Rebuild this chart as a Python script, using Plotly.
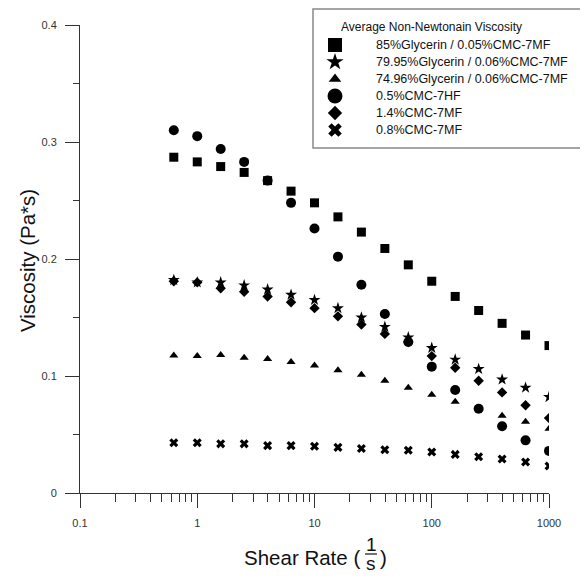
import plotly.graph_objects as go

shear_rate = [0.631, 1.0, 1.585, 2.512, 3.981, 6.31, 10.0, 15.85, 25.12, 39.81,
              63.1, 100.0, 158.5, 251.2, 398.1, 631.0, 1000.0]

glyc85_cmc005 = [0.287, 0.283, 0.279, 0.274, 0.267, 0.258, 0.248, 0.236, 0.223,
                 0.209, 0.195, 0.181, 0.168, 0.156, 0.145, 0.135, 0.126]
glyc7995_cmc006 = [0.182, 0.180, 0.180, 0.1775, 0.174, 0.1695, 0.165, 0.158, 0.150,
                   0.142, 0.133, 0.124, 0.114, 0.106, 0.097, 0.090, 0.082]
glyc7496_cmc006 = [0.1175, 0.117, 0.118, 0.1155, 0.1145, 0.112, 0.109, 0.105, 0.101,
                   0.096, 0.090, 0.084, 0.078, 0.072, 0.066, 0.061, 0.055]
cmc7hf_05 = [0.310, 0.305, 0.294, 0.283, 0.267, 0.248, 0.226, 0.202, 0.178,
             0.153, 0.129, 0.108, 0.088, 0.072, 0.057, 0.045, 0.036]
cmc7mf_14 = [0.181, 0.180, 0.175, 0.172, 0.168, 0.163, 0.158, 0.151, 0.144,
             0.136, 0.129, 0.117, 0.107, 0.096, 0.086, 0.075, 0.064]
cmc7mf_08 = [0.043, 0.043, 0.042, 0.042, 0.0405, 0.0405, 0.040, 0.039, 0.038,
             0.037, 0.0365, 0.035, 0.033, 0.031, 0.029, 0.0265, 0.023]

legend_title = "Average Non-Newtonain Viscosity"
series_names = ["85%Glycerin / 0.05%CMC-7MF", "79.95%Glycerin / 0.06%CMC-7MF",
                "74.96%Glycerin / 0.06%CMC-7MF", "0.5%CMC-7HF", "1.4%CMC-7MF",
                "0.8%CMC-7MF"]
series_values = [glyc85_cmc005, glyc7995_cmc006, glyc7496_cmc006, cmc7hf_05,
                 cmc7mf_14, cmc7mf_08]
symbols = ["square", "star", "triangle-up", "circle", "diamond", "x"]
plot_sizes = [9, 9, 8, 10, 8, 8]
legend_sizes = [14, 13, 11, 15, 11, 12]
legend_rows = [0, 1, 2, 3, 4, 5]

x_tick_vals = [0.1, 1, 10, 100, 1000]
x_tick_text = ["0.1", "1", "10", "100", "1000"]
y_tick_vals = [0, 0.1, 0.2, 0.3, 0.4]
y_tick_text = ["0", "0.1", "0.2", "0.3", "0.4"]
y_minor_vals = [0.05, 0.15, 0.25, 0.35]
y_title = "Viscosity (Pa*s)"

FONT = "Liberation Sans, Arial, sans-serif"
OFF = 8  # page body margin around the figure
W, H = 588 - OFF, 582 - 2 * OFF
# plot area in page pixels: x 80..549, y 25..493
L, T = 80 - OFF, 25 - OFF
R, B = W - (549 - OFF), H - (493 - OFF)
PW, PH = W - L - R, H - T - B


def px(xp):
    return (xp - OFF - L) / PW


def py(yp):
    return (H - B - (yp - OFF)) / PH


fig = go.Figure()

# legend box
fig.add_shape(type="rect", xref="paper", yref="paper", layer="below",
              x0=px(313), x1=px(585), y0=py(148), y1=py(9),
              fillcolor="white", line=dict(color="#888888", width=1.5))

draw_order = [5, 2, 4, 1, 3, 0]
for i in draw_order:
    fig.add_trace(go.Scatter(
        x=shear_rate, y=series_values[i], mode="markers", showlegend=False,
        marker=dict(symbol=symbols[i], size=plot_sizes[i], color="black",
                    line=dict(width=0)),
        name=series_names[i], hoverinfo="x+y+name"))

# legend symbols on a hidden helper axis pair
for i in range(6):
    fig.add_trace(go.Scatter(
        x=[0.5], y=[legend_rows[i]], xaxis="x2", yaxis="y2", mode="markers",
        showlegend=False, hoverinfo="skip", cliponaxis=False,
        marker=dict(symbol=symbols[i], size=legend_sizes[i], color="black",
                    line=dict(width=0))))
    fig.add_annotation(text=series_names[i], xref="paper", yref="y2",
                       x=px(374), y=legend_rows[i], xanchor="left", yanchor="middle",
                       showarrow=False,
                       font=dict(size=12.5, color="#111111", family=FONT))

fig.add_annotation(text=legend_title, xref="paper", yref="paper",
                   x=px(339), y=py(27), xanchor="left", yanchor="middle",
                   showarrow=False, font=dict(size=12, color="#111111", family=FONT))

axis_col = "#333333"
fig.update_layout(
    width=W, height=H,
    margin=dict(l=L, r=R, t=T, b=B, autoexpand=False),
    paper_bgcolor="white", plot_bgcolor="rgba(0,0,0,0)",
    font=dict(family=FONT, color="#222222", size=12),
    showlegend=False,
    xaxis=dict(type="log", range=[-1, 3], tickvals=x_tick_vals, ticktext=x_tick_text,
               showgrid=False, zeroline=False, showline=True, linecolor=axis_col,
               linewidth=1, ticks="outside", ticklen=14, tickcolor=axis_col,
               tickfont=dict(size=11, color="#333333"), ticklabelstandoff=6,
               automargin=False,
               minor=dict(ticks="outside", ticklen=8, tickcolor=axis_col, dtick="D1",
                          showgrid=False)),
    yaxis=dict(range=[0, 0.4], tickvals=y_tick_vals, ticktext=y_tick_text,
               showgrid=False, zeroline=False, showline=True, linecolor=axis_col,
               linewidth=1, ticks="outside", ticklen=14, tickcolor=axis_col,
               tickfont=dict(size=11, color="#333333"), ticklabelstandoff=6,
               automargin=False,
               minor=dict(ticks="outside", ticklen=6, tickcolor=axis_col,
                          tickvals=y_minor_vals, showgrid=False)),
    xaxis2=dict(domain=[px(325), px(345)], range=[0, 1], visible=False,
                anchor="y2", fixedrange=True),
    yaxis2=dict(domain=[py(138.5), py(36.5)], range=[5.5, -0.5], visible=False,
                anchor="x2", fixedrange=True),
)

fig.add_annotation(text=y_title, x=px(27), y=py(261), xref="paper", yref="paper",
                   xanchor="center", yanchor="middle", textangle=-90, showarrow=False,
                   font=dict(size=20.5, color="#111111", family=FONT))

title_font = dict(size=20.5, color="#111111", family=FONT)
frac_font = dict(size=19, color="#111111", family=FONT)
fig.add_annotation(text="Shear Rate (", x=px(362), y=py(557), xref="paper", yref="paper",
                   xanchor="right", yanchor="middle", showarrow=False, font=title_font)
fig.add_annotation(text="1", x=px(371), y=py(544), xref="paper", yref="paper",
                   xanchor="center", yanchor="middle", showarrow=False, font=frac_font)
fig.add_annotation(text="s", x=px(371), y=py(563), xref="paper", yref="paper",
                   xanchor="center", yanchor="middle", showarrow=False, font=frac_font)
fig.add_annotation(text=")", x=px(378), y=py(557), xref="paper", yref="paper",
                   xanchor="left", yanchor="middle", showarrow=False, font=title_font)
fig.add_shape(type="line", xref="paper", yref="paper", x0=px(365), x1=px(377),
              y0=py(554), y1=py(554), line=dict(color="#111111", width=1.2))

fig.write_html("out.html")
